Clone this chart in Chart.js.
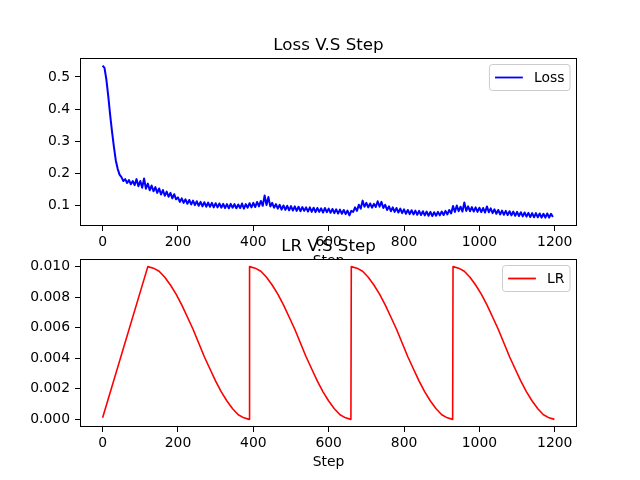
<!DOCTYPE html>
<html>
<head>
<meta charset="utf-8">
<script src="https://cdn.jsdelivr.net/npm/chart.js@4"></script>
<style>
  html, body { margin: 0; padding: 0; background: #fff; }
  #wrap { position: relative; width: 640px; height: 480px; }
  canvas { position: absolute; left: 0; top: 0; }
</style>
</head>
<body>
<div id="wrap">
  <canvas id="lossChart" width="640" height="480"></canvas>
  <canvas id="lrChart" width="640" height="480"></canvas>
</div>
<script>
// loss was logged every 5 steps
const lossStride = 5;
const lossValues = [
    0.535, 0.528, 0.492, 0.440, 0.382, 0.330, 0.282, 0.240, 0.214, 0.196,
    0.188, 0.176, 0.182, 0.170, 0.179, 0.166, 0.176, 0.163, 0.182, 0.160,
    0.176, 0.155, 0.184, 0.152, 0.168, 0.147, 0.162, 0.144, 0.157, 0.139,
    0.153, 0.134, 0.148, 0.130, 0.143, 0.127, 0.139, 0.122, 0.135, 0.119,
    0.125, 0.111, 0.122, 0.108, 0.119, 0.105, 0.117, 0.103, 0.115, 0.101,
    0.113, 0.099, 0.111, 0.097, 0.110, 0.096, 0.109, 0.096, 0.108, 0.094,
    0.107, 0.094, 0.106, 0.093, 0.105, 0.092, 0.104, 0.091, 0.105, 0.093,
    0.104, 0.091, 0.103, 0.092, 0.106, 0.090, 0.104, 0.093, 0.107, 0.094,
    0.108, 0.095, 0.111, 0.097, 0.114, 0.099, 0.131, 0.101, 0.126, 0.097,
    0.108, 0.093, 0.104, 0.090, 0.102, 0.087, 0.100, 0.086, 0.099, 0.085,
    0.098, 0.084, 0.097, 0.083, 0.096, 0.082, 0.095, 0.083, 0.094, 0.081,
    0.094, 0.080, 0.093, 0.079, 0.092, 0.080, 0.091, 0.078, 0.092, 0.079,
    0.090, 0.077, 0.089, 0.076, 0.088, 0.075, 0.087, 0.074, 0.086, 0.073,
    0.084, 0.069, 0.083, 0.080, 0.094, 0.083, 0.102, 0.090, 0.115, 0.096,
    0.108, 0.094, 0.106, 0.093, 0.105, 0.095, 0.113, 0.096, 0.111, 0.092,
    0.102, 0.086, 0.097, 0.082, 0.094, 0.080, 0.092, 0.078, 0.090, 0.076,
    0.088, 0.074, 0.086, 0.073, 0.085, 0.072, 0.084, 0.071, 0.083, 0.070,
    0.082, 0.069, 0.081, 0.068, 0.080, 0.067, 0.079, 0.068, 0.080, 0.069,
    0.081, 0.070, 0.083, 0.072, 0.086, 0.075, 0.098, 0.080, 0.100, 0.082,
    0.096, 0.081, 0.109, 0.083, 0.097, 0.082, 0.095, 0.081, 0.094, 0.080,
    0.093, 0.079, 0.092, 0.078, 0.097, 0.079, 0.091, 0.076, 0.088, 0.074,
    0.086, 0.072, 0.084, 0.071, 0.083, 0.070, 0.082, 0.069, 0.081, 0.068,
    0.080, 0.067, 0.079, 0.066, 0.078, 0.065, 0.077, 0.064, 0.076, 0.063,
    0.076, 0.063, 0.075, 0.062, 0.074, 0.062, 0.075, 0.062, 0.074, 0.064
];

// warmup, then 4 cosine cycles with restarts
const lrSteps = [
    0,
    120, 135, 150, 165, 180, 195, 210, 225, 240, 255, 270, 285, 300, 315, 330, 345, 360, 375, 389,
    390, 405, 420, 435, 450, 465, 480, 495, 510, 525, 540, 555, 570, 585, 600, 615, 630, 645, 659,
    660, 675, 690, 705, 720, 735, 750, 765, 780, 795, 810, 825, 840, 855, 870, 885, 900, 915, 929,
    930, 945, 960, 975, 990, 1005, 1020, 1035, 1050, 1065, 1080, 1095, 1110, 1125, 1140, 1155, 1170, 1185, 1199
];
const lrValues = [
    0.0001,
    0.0100, 0.0099, 0.0097, 0.0093, 0.0088, 0.0082, 0.0075, 0.0067, 0.0059, 0.0050, 0.0041, 0.0033, 0.0025, 0.0018, 0.0012, 0.0007, 0.0003, 0.0001, 0.0000,
    0.0100, 0.0099, 0.0097, 0.0093, 0.0088, 0.0082, 0.0075, 0.0067, 0.0059, 0.0050, 0.0041, 0.0033, 0.0025, 0.0018, 0.0012, 0.0007, 0.0003, 0.0001, 0.0000,
    0.0100, 0.0099, 0.0097, 0.0093, 0.0088, 0.0082, 0.0075, 0.0067, 0.0059, 0.0050, 0.0041, 0.0033, 0.0025, 0.0018, 0.0012, 0.0007, 0.0003, 0.0001, 0.0000,
    0.0100, 0.0099, 0.0097, 0.0093, 0.0088, 0.0082, 0.0075, 0.0067, 0.0059, 0.0050, 0.0041, 0.0033, 0.0025, 0.0018, 0.0012, 0.0007, 0.0003, 0.0001, 0.0000
];

const stepTicks = [0, 200, 400, 600, 800, 1000, 1200];
const lossTicks = [0.1, 0.2, 0.3, 0.4, 0.5];
const lrTicks = [0.000, 0.002, 0.004, 0.006, 0.008, 0.010];

Chart.defaults.font.family = "'DejaVu Sans', sans-serif";
Chart.defaults.font.size = 13.9;
Chart.defaults.color = "#000";

// white plot background, black frame, title and a matplotlib-like legend
const axesDecor = {
    id: "axesDecor",
    beforeDraw(chart) {
        const a = chart.chartArea;
        const ctx = chart.ctx;
        ctx.save();
        ctx.fillStyle = "#fff";
        ctx.fillRect(a.left, a.top, a.right - a.left, a.bottom - a.top);
        ctx.restore();
    },
    afterDraw(chart, args, opts) {
        const a = chart.chartArea;
        const ctx = chart.ctx;
        ctx.save();

        // frame
        ctx.strokeStyle = "#000";
        ctx.lineWidth = 1;
        const l = Math.floor(a.left) + 0.5, r = Math.floor(a.right) - 0.5;
        const t = Math.floor(a.top) + 0.5, b = Math.floor(a.bottom) - 0.5;
        ctx.strokeRect(l, t, r - l, b - t);

        // legend
        ctx.font = "13.9px 'DejaVu Sans'";
        const tw = ctx.measureText(opts.label).width;
        const pad = 5.6, handle = 27.8, gap = 11.1;
        const w = pad + handle + gap + tw + pad;
        const h = 26;
        const x0 = a.right - 7 - w, y0 = a.top + 6.5;
        ctx.beginPath();
        ctx.roundRect(x0, y0, w, h, 3);
        ctx.fillStyle = "rgba(255,255,255,0.8)";
        ctx.fill();
        ctx.strokeStyle = "#cccccc";
        ctx.stroke();
        ctx.beginPath();
        ctx.moveTo(x0 + pad, y0 + h / 2);
        ctx.lineTo(x0 + pad + handle, y0 + h / 2);
        ctx.strokeStyle = opts.color;
        ctx.lineWidth = 1.8;
        ctx.stroke();
        ctx.fillStyle = "#000";
        ctx.textBaseline = "middle";
        ctx.textAlign = "left";
        ctx.fillText(opts.label, x0 + pad + handle + gap, y0 + h / 2 + 1);

        // title
        ctx.font = "16.7px 'DejaVu Sans'";
        ctx.textAlign = "center";
        ctx.textBaseline = "alphabetic";
        ctx.fillText(opts.title, (a.left + a.right) / 2, a.top - 8.3);
        ctx.restore();
    }
};

function makeOptions(yMin, yMax, yTicks, yFormat, title, label, color, padTop, padBottom) {
    return {
        responsive: false,
        animation: false,
        layout: { padding: { left: 0, right: 63, top: padTop, bottom: padBottom } },
        plugins: {
            legend: { display: false },
            tooltip: { enabled: false },
            axesDecor: { title: title, label: label, color: color }
        },
        scales: {
            x: {
                type: "linear",
                min: -60,
                max: 1259,
                afterBuildTicks: s => { s.ticks = stepTicks.map(v => ({ value: v })); },
                afterFit: s => { s.height = 44; },
                ticks: { padding: 3, maxRotation: 0, callback: v => String(v) },
                grid: { display: true, drawOnChartArea: false, drawTicks: true, tickLength: 5, color: "#000" },
                border: { display: false },
                title: { display: true, text: "Step", padding: { top: 0, bottom: 0 }, font: { size: 13.9 } }
            },
            y: {
                type: "linear",
                min: yMin,
                max: yMax,
                afterBuildTicks: s => { s.ticks = yTicks.map(v => ({ value: v })); },
                afterFit: s => { s.width = 80; },
                ticks: { padding: 5, callback: yFormat },
                grid: { display: true, drawOnChartArea: false, drawTicks: true, tickLength: 5, color: "#000" },
                border: { display: false }
            }
        }
    };
}

new Chart(document.getElementById("lossChart"), {
    type: "line",
    data: {
        datasets: [{
            label: "Loss",
            data: lossValues.map((v, i) => ({ x: i * lossStride, y: v })),
            borderColor: "#0000ff",
            borderWidth: 2,
            borderJoinStyle: "round",
            pointRadius: 0,
            fill: false,
            tension: 0
        }]
    },
    options: makeOptions(0.036, 0.559, lossTicks, v => v.toFixed(1), "Loss V.S Step", "Loss", "#0000ff", 58, 210),
    plugins: [axesDecor]
});

new Chart(document.getElementById("lrChart"), {
    type: "line",
    data: {
        datasets: [{
            label: "LR",
            data: lrSteps.map((s, i) => ({ x: s, y: lrValues[i] })),
            borderColor: "#ff0000",
            borderWidth: 1.6,
            borderJoinStyle: "round",
            pointRadius: 0,
            fill: false,
            tension: 0
        }]
    },
    options: makeOptions(-0.0005, 0.0105, lrTicks, v => v.toFixed(3), "LR V.S Step", "LR", "#ff0000", 259, 9),
    plugins: [axesDecor]
});
</script>
</body>
</html>
